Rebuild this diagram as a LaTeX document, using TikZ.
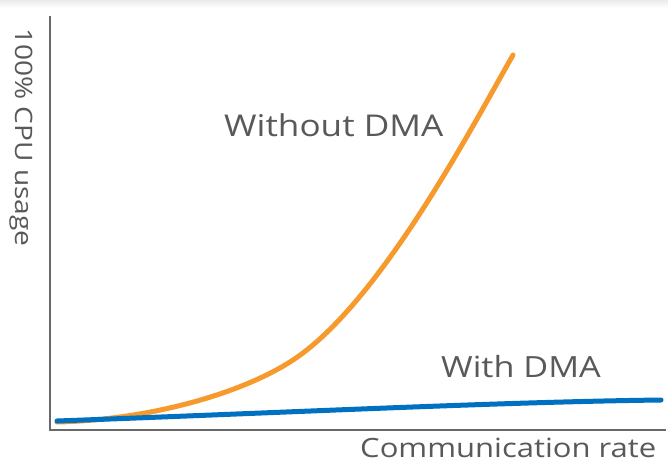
\documentclass[tikz,border=0pt]{standalone}
\usepackage{fontspec}
\setmainfont[FakeStretch=1.17]{Open Sans}
\definecolor{axisgray}{RGB}{105,105,105}
\definecolor{txtgray}{RGB}{89,89,89}
\definecolor{dmablue}{RGB}{0,112,192}
\definecolor{dmaorange}{RGB}{247,154,46}
\begin{document}
\begin{tikzpicture}[x=1pt,y=-1pt,
  axisline/.style={draw=axisgray,line width=2.4pt},
  curveline/.style={line width=5pt,line cap=round},
  lbl/.style={text=txtgray,inner sep=0pt,anchor=base west}]
\useasboundingbox (0,0) rectangle (668,461);
\fill[white] (0,0) rectangle (668,461);
\shade[top color=black!8,bottom color=white] (0,0) rectangle (668,8);
% axes
\coordinate (ytop) at (50,16);
\coordinate (origin) at (50,430);
\coordinate (xend) at (666,430);
\draw[axisline] (ytop) -- (origin) -- (xend);
% curves
\coordinate (ostart) at (57,422);
\coordinate (omid) at (293,360);
\coordinate (oend) at (513,55);
\draw[curveline,dmaorange] (ostart) .. controls (150,420) and (243,393) .. (omid)
  .. controls (380,303) and (473,125) .. (oend);
\coordinate (bstart) at (57,421);
\coordinate (bend) at (661,400);
\draw[curveline,dmablue] (bstart) .. controls (300,412) and (500,402) .. (bend);
% labels
\node[lbl,font=\fontsize{30}{34}\selectfont] (without) at (224,136) {Without DMA};
\node[lbl,font=\fontsize{29.2}{34}\selectfont] (with) at (441,377) {With DMA};
\node[lbl,font=\fontsize{26.5}{32}\selectfont] (xlabel) at (360,457) {Communication rate};
\node[lbl,font=\fontsize{24}{30}\selectfont,rotate=-90] (ylabel) at (15,28) {100\% CPU usage};
\end{tikzpicture}
\end{document}
